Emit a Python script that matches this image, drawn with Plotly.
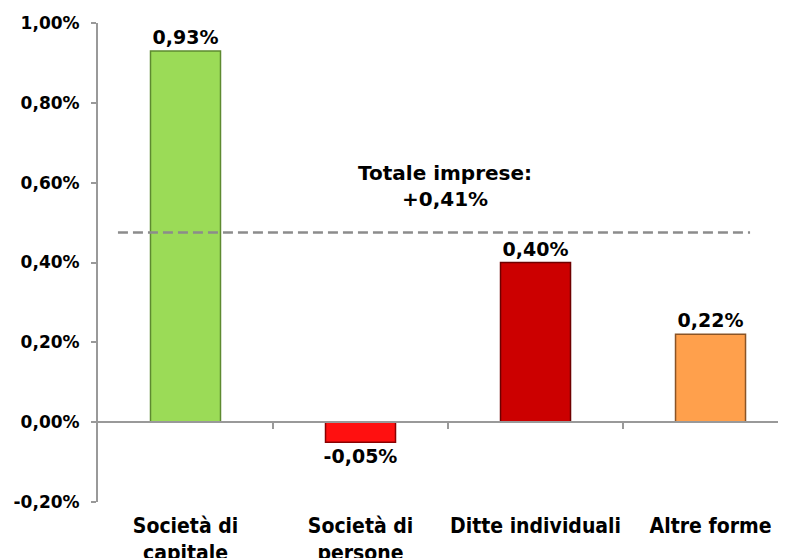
import plotly.graph_objects as go

categories = ["Società di<br>capitale", "Società di<br>persone", "Ditte individuali", "Altre forme"]
values = [0.93, -0.05, 0.40, 0.22]
bar_colors = ["#9BDB57", "#FF1010", "#CC0000", "#FFA04C"]
edge_colors = ["#5E8A30", "#8A0000", "#6E0000", "#8A5426"]
y_ticks = [-0.20, 0.00, 0.20, 0.40, 0.60, 0.80, 1.00]
y_tick_labels = ["-0,20%", "0,00%", "0,20%", "0,40%", "0,60%", "0,80%", "1,00%"]
total_label = "Totale imprese:<br>+0,41%"
total_line_level = 0.475

Y_MIN, Y_MAX = -0.20, 1.00
X_RANGE = [-0.5, 3.477]

fig = go.Figure()
fig.add_trace(go.Bar(
    x=list(range(len(categories))), y=values,
    width=0.4,
    marker=dict(color=bar_colors, line=dict(color=edge_colors, width=1.5)),
    texttemplate="%{y:.2f}%", textposition="outside",
    textfont=dict(family="DejaVu Sans", size=19, color="black", weight="bold"),
    constraintext="none", cliponaxis=False,
    hoverinfo="skip",
))
# invisible trace for the zero-line axis
fig.add_trace(go.Scatter(x=[0], y=[0], xaxis="x2", mode="markers",
                         marker=dict(opacity=0), hoverinfo="skip", showlegend=False))

fig.add_shape(type="line", xref="x", yref="y", x0=-0.386, x1=3.226,
              y0=total_line_level, y1=total_line_level,
              line=dict(color="#8C8C8C", width=2.5, dash="10px,5px"))

fig.add_annotation(x=1.48, y=0.5925, xref="x", yref="y", text=total_label,
                   showarrow=False, align="center",
                   font=dict(family="DejaVu Sans", size=20, color="black", weight="bold"))

zero_pos = (0 - Y_MIN) / (Y_MAX - Y_MIN)

fig.update_layout(
    width=786, height=558,
    margin=dict(l=90, r=0, t=15, b=64),
    paper_bgcolor="white", plot_bgcolor="white",
    separators=",.",
    showlegend=False,
    bargap=0.6,
    xaxis=dict(
        range=X_RANGE, tickvals=list(range(len(categories))), ticktext=categories,
        showline=False, ticks="", showgrid=False, zeroline=False, automargin=False,
        tickfont=dict(family="DejaVu Sans Condensed, DejaVu Sans, sans-serif",
                      size=21, color="black", weight="bold"),
        ticklabelstandoff=9,
    ),
    xaxis2=dict(
        overlaying="x", matches="x", anchor="free", position=zero_pos,
        showline=True, linecolor="#999999", linewidth=2,
        tickvals=[0.5, 1.5, 2.5], ticks="outside", ticklen=6, tickwidth=2,
        tickcolor="#999999", showticklabels=False, showgrid=False, zeroline=False,
        automargin=False,
    ),
    yaxis=dict(
        range=[Y_MIN, Y_MAX], tickvals=y_ticks, ticktext=y_tick_labels,
        showline=True, linecolor="#999999", linewidth=2,
        ticks="outside", ticklen=5, tickwidth=2, tickcolor="#999999",
        showgrid=False, zeroline=False, automargin=False,
        tickfont=dict(family="DejaVu Sans", size=17, color="black", weight="bold"),
        ticklabelstandoff=8,
    ),
)

fig.write_html("out.html")
